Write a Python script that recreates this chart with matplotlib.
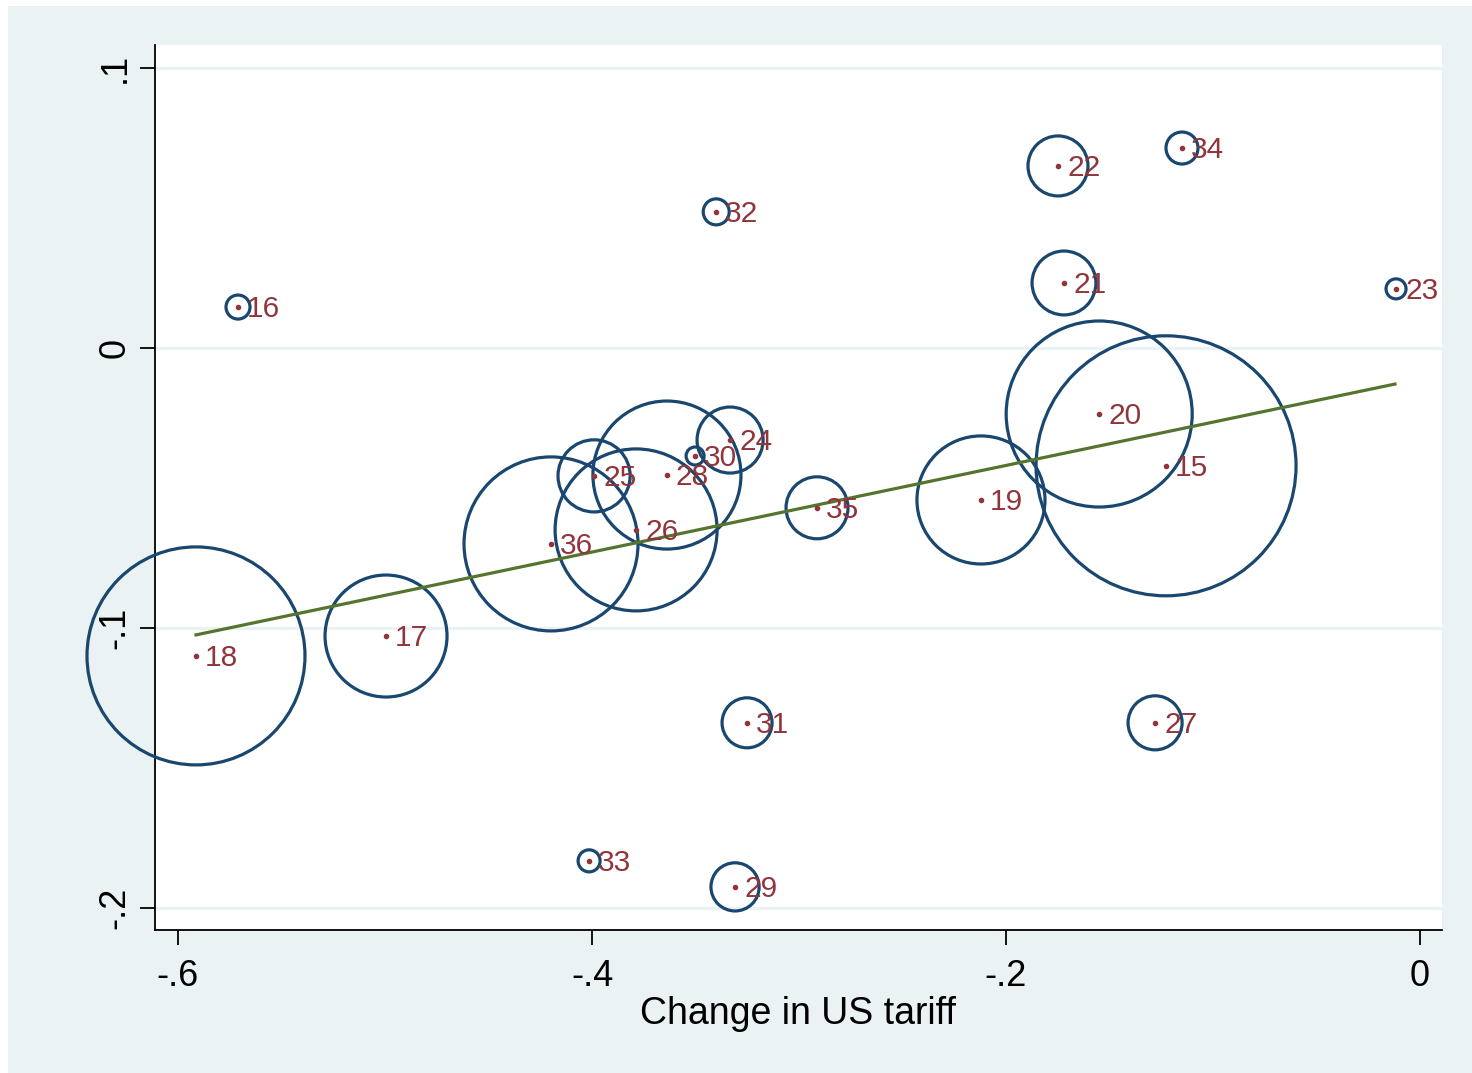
import matplotlib.pyplot as plt
import numpy as np
from matplotlib.patches import Rectangle

plt.rcParams['font.family'] = ['Liberation Sans', 'DejaVu Sans']

# data
labels = ['15', '16', '17', '18', '19', '20', '21', '22', '23', '24', '25',
          '26', '27', '28', '29', '30', '31', '32', '33', '34', '35', '36']
tariff_change = [-0.1227, -0.571, -0.4995, -0.5913, -0.2121, -0.155, -0.172,
                 -0.1749, -0.0116, -0.3333, -0.399, -0.3787, -0.128, -0.3638,
                 -0.3309, -0.3502, -0.3251, -0.340, -0.4014, -0.115, -0.2913,
                 -0.4198]
outcome = [-0.0421, 0.0146, -0.1029, -0.110, -0.0543, -0.0236, 0.0232,
           0.065, 0.0211, -0.0329, -0.0457, -0.065, -0.1339, -0.0454,
           -0.1925, -0.0386, -0.1339, 0.0486, -0.1832, 0.0714, -0.0571,
           -0.070]
weights = [169, 1.44, 37.2, 118.8, 41.0, 86.5, 10.2, 9.0, 1.0, 10.9, 13.0,
           65.6, 7.3, 54.8, 5.8, 0.81, 6.25, 1.69, 1.21, 2.56, 9.6, 75.7]
fit_x = [-0.5913, -0.0121]
fit_y = [-0.1025, -0.0129]

navy = '#1A476F'
maroon = '#90353B'
green = '#55752F'
bg = '#EAF2F3'

fig = plt.figure(figsize=(14.72, 10.73), dpi=100, facecolor='white')
fig.patches.append(Rectangle((8 / 1472, 0), 1 - 8 / 1472, 1 - 6 / 1073,
                             transform=fig.transFigure, facecolor=bg,
                             edgecolor='none', zorder=-10))
ax = fig.add_axes([155 / 1472, 143 / 1073, 1287 / 1472, 885 / 1073])
ax.set_facecolor('white')

# circle area proportional to weight
sizes = 207.36 * np.array(weights)
ax.scatter(tariff_change, outcome, s=sizes, facecolors='none',
           edgecolors=navy, linewidths=2.3, clip_on=False, zorder=3)
ax.plot(fit_x, fit_y, color=green, linewidth=2.3, zorder=4)
ax.scatter(tariff_change, outcome, s=9, color=maroon, zorder=5)
for x, y, lab in zip(tariff_change, outcome, labels):
    ax.annotate(lab, (x, y), xytext=(6.5, -1.5), textcoords='offset points',
                ha='left', va='center', color=maroon, fontsize=21.5, zorder=6)

ax.set_xlim(-0.6111, 0.0106)
ax.set_ylim(-0.2079, 0.1082)
ax.set_xticks([-0.6, -0.4, -0.2, 0])
ax.set_xticklabels(['-.6', '-.4', '-.2', '0'])
ax.set_yticks([-0.2, -0.1, 0, 0.1])
ax.set_yticklabels(['-.2', '-.1', '0', '.1'], rotation=90, va='center')
ax.tick_params(axis='both', length=11, width=1.3, labelsize=26)
ax.tick_params(axis='x', pad=10)
ax.tick_params(axis='y', pad=5)
ax.grid(axis='y', color=bg, linewidth=2.2)
ax.set_axisbelow(True)
for side in ['top', 'right']:
    ax.spines[side].set_visible(False)
for side in ['left', 'bottom']:
    ax.spines[side].set_linewidth(1.3)
ax.set_xlabel('Change in US tariff', fontsize=27, labelpad=1)

fig.savefig('out.png', dpi=100, facecolor=fig.get_facecolor())
